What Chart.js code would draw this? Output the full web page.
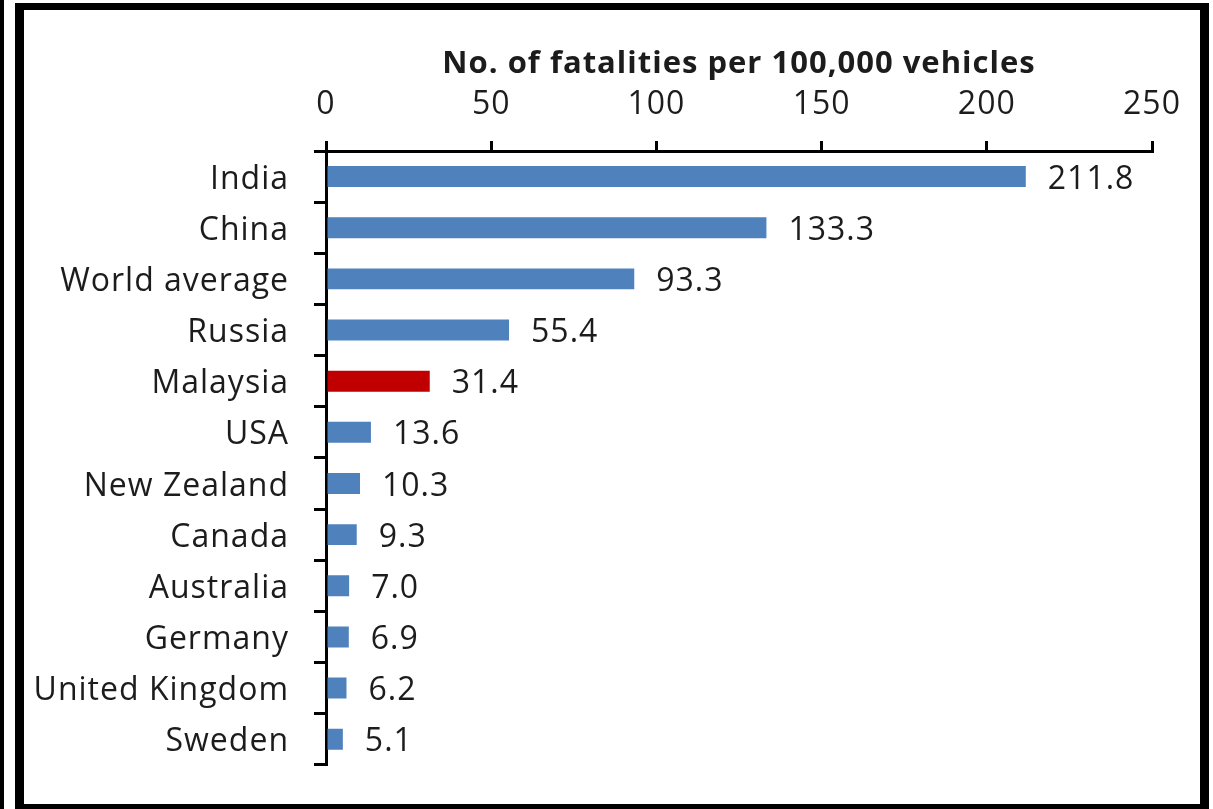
<!DOCTYPE html>
<html>
<head>
<meta charset="utf-8">
<script src="https://cdn.jsdelivr.net/npm/chart.js@4"></script>
<style>
  html, body { margin: 0; padding: 0; background: #ffffff; }
  body { width: 1213px; height: 809px; position: relative; overflow: hidden; }
  #wrap { position: absolute; left: 0; top: 0; width: 1213px; height: 809px; }
  #leftbar { position: absolute; left: 0; top: 0; width: 4px; height: 809px; background: #000; }
  #frame { position: absolute; left: 15px; top: 3px; width: 1194px; height: 806px;
           box-sizing: border-box; border-style: solid; border-color: #000;
           border-width: 7px 9px 5px 9px; pointer-events: none; }
</style>
</head>
<body>
<div id="wrap"><canvas id="c" width="1213" height="809"></canvas></div>
<div id="leftbar"></div>
<div id="frame"></div>
<script>
const categories = ["India", "China", "World average", "Russia", "Malaysia", "USA", "New Zealand", "Canada", "Australia", "Germany", "United Kingdom", "Sweden"];
const fatalities = [211.8, 133.3, 93.3, 55.4, 31.4, 13.6, 10.3, 9.3, 7.0, 6.9, 6.2, 5.1];
const highlighted = "Malaysia";
const axisTitle = "No. of fatalities per 100,000 vehicles";
const xMin = 0, xMax = 250, xStep = 50;

const FONT = "'Open Sans', Lato, sans-serif";
const TEXT = "#1c1c1c";
const FS = 32;

const barColors = categories.map(c => c === highlighted ? "#C00000" : "#4F81BD");

const spacing = {
  id: "spacing",
  beforeDraw(chart) { chart.ctx.letterSpacing = "1px"; },
  afterDraw(chart) { chart.ctx.letterSpacing = "0px"; }
};

const valueLabels = {
  id: "valueLabels",
  afterDatasetsDraw(chart) {
    const ctx = chart.ctx;
    const meta = chart.getDatasetMeta(0);
    ctx.save();
    ctx.font = FS + "px " + FONT;
    ctx.fillStyle = TEXT;
    ctx.textAlign = "left";
    ctx.textBaseline = "middle";
    meta.data.forEach((bar, i) => {
      const v = chart.data.datasets[0].data[i];
      ctx.fillText(v.toFixed(1), bar.x + 22, bar.y + 3);
    });
    ctx.restore();
  }
};

new Chart(document.getElementById("c"), {
  type: "bar",
  data: {
    labels: categories,
    datasets: [{
      data: fatalities,
      backgroundColor: barColors,
      borderWidth: 0,
      barPercentage: 0.41,
      categoryPercentage: 1.0
    }]
  },
  options: {
    indexAxis: "y",
    responsive: false,
    animation: false,
    devicePixelRatio: 1,
    layout: { padding: { left: 0, top: 0, right: 61, bottom: 37 } },
    plugins: { legend: { display: false }, tooltip: { enabled: false } },
    scales: {
      x: {
        position: "top",
        min: xMin, max: xMax,
        ticks: { stepSize: xStep, color: TEXT, font: { family: FONT, size: FS }, padding: 17 },
        grid: { drawOnChartArea: false, drawTicks: true, tickLength: 10, color: "#000", lineWidth: 3 },
        border: { display: true, color: "#000", width: 3 },
        title: { display: true, text: axisTitle, color: TEXT, font: { family: FONT, size: 31, weight: "bold" }, padding: { top: 46, bottom: 0 } },
        afterFit(s) { s.height = 151; }
      },
      y: {
        ticks: { color: TEXT, font: { family: FONT, size: FS }, padding: 25, labelOffset: 3 },
        grid: { drawOnChartArea: false, drawTicks: true, tickLength: 12, color: "#000", lineWidth: 3, offset: true },
        border: { display: true, color: "#000", width: 3 },
        afterFit(s) { s.width = 326; }
      }
    }
  },
  plugins: [spacing, valueLabels]
});
</script>
</body>
</html>
